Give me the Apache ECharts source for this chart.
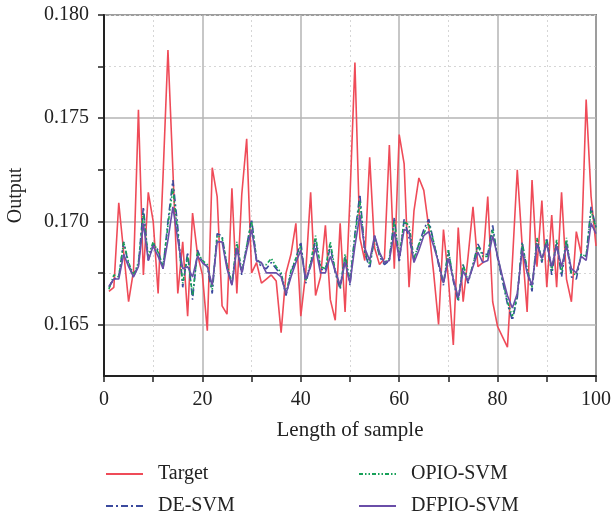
<!DOCTYPE html>
<html><head><meta charset="utf-8">
<script src="https://cdn.jsdelivr.net/npm/echarts@6/dist/echarts.min.js"></script>
<style>html,body{margin:0;padding:0;background:#fff}#c{width:611px;height:517px}</style>
</head><body><div id="c"></div><script>
const seriesNames = ['Target', 'DE-SVM', 'OPIO-SVM', 'DFPIO-SVM'];
const xTickLabels = ['0', '20', '40', '60', '80', '100'];
const yTickLabels = ['0.165', '0.170', '0.175', '0.180'];

const target = [
0.1666,0.1668,0.1709,0.1685,0.1661,0.1676,0.1754,0.1674,0.1714,0.1700,
0.1665,0.1722,0.1783,0.1725,0.1665,0.1690,0.1654,0.1704,0.1684,0.1674,
0.1647,0.1726,0.1712,0.1659,0.1655,0.1716,0.1665,0.1713,0.1740,0.1675,
0.1680,0.1670,0.1672,0.1674,0.1671,0.1646,0.1675,0.1684,0.1699,0.1654,
0.1675,0.1714,0.1664,0.1673,0.1698,0.1662,0.1652,0.1699,0.1656,0.1712,
0.1777,0.1692,0.1681,0.1731,0.1687,0.1679,0.1682,0.1737,0.1677,0.1742,
0.1728,0.1668,0.1705,0.1721,0.1715,0.1697,0.1675,0.1650,0.1696,0.1672,
0.1640,0.1697,0.1661,0.1683,0.1707,0.1678,0.1680,0.1712,0.1661,0.1649,
0.1644,0.1639,0.1680,0.1725,0.1688,0.1656,0.1720,0.1678,0.1710,0.1668,
0.1703,0.1668,0.1714,0.1672,0.1661,0.1695,0.1684,0.1759,0.1712,0.1688];

const deSvm = [
0.1668,0.1672,0.1673,0.1690,0.1679,0.1673,0.1679,0.1707,0.1681,0.1689,
0.1686,0.1677,0.1700,0.1720,0.1697,0.1668,0.1685,0.1662,0.1686,0.1680,
0.1678,0.1665,0.1694,0.1693,0.1678,0.1669,0.1689,0.1674,0.1688,0.1701,
0.1681,0.1678,0.1677,0.1680,0.1677,0.1674,0.1664,0.1675,0.1682,0.1690,
0.1670,0.1679,0.1691,0.1677,0.1676,0.1688,0.1675,0.1667,0.1683,0.1669,
0.1694,0.1713,0.1685,0.1677,0.1693,0.1683,0.1679,0.1681,0.1702,0.1680,
0.1701,0.1692,0.1681,0.1689,0.1696,0.1701,0.1690,0.1679,0.1669,0.1686,
0.1671,0.1661,0.1679,0.1670,0.1679,0.1689,0.1684,0.1684,0.1698,0.1682,
0.1671,0.1660,0.1652,0.1663,0.1690,0.1676,0.1666,0.1691,0.1680,0.1692,
0.1674,0.1690,0.1673,0.1690,0.1673,0.1672,0.1684,0.1683,0.1707,0.1697];

const opioSvm = [
0.1667,0.1674,0.1673,0.1690,0.1680,0.1674,0.1680,0.1704,0.1683,0.1690,
0.1685,0.1678,0.1698,0.1716,0.1694,0.1670,0.1683,0.1664,0.1685,0.1681,
0.1679,0.1667,0.1693,0.1692,0.1679,0.1670,0.1690,0.1676,0.1688,0.1700,
0.1682,0.1679,0.1679,0.1682,0.1678,0.1675,0.1665,0.1676,0.1682,0.1688,
0.1671,0.1680,0.1693,0.1678,0.1677,0.1690,0.1676,0.1668,0.1684,0.1671,
0.1693,0.1710,0.1686,0.1679,0.1692,0.1684,0.1680,0.1682,0.1700,0.1683,
0.1700,0.1698,0.1682,0.1689,0.1694,0.1699,0.1690,0.1680,0.1670,0.1686,
0.1672,0.1662,0.1679,0.1671,0.1679,0.1688,0.1683,0.1683,0.1696,0.1683,
0.1672,0.1661,0.1654,0.1664,0.1689,0.1677,0.1668,0.1692,0.1681,0.1691,
0.1676,0.1691,0.1675,0.1692,0.1675,0.1674,0.1684,0.1683,0.1705,0.1697];

const dfpioSvm = [
0.16685,0.1672,0.1672,0.1684,0.1678,0.1673,0.1678,0.1699,0.1681,0.1688,
0.1683,0.1677,0.1691,0.1707,0.1691,0.1677,0.1678,0.1673,0.1683,0.1680,
0.1678,0.1669,0.1690,0.1690,0.1677,0.1669,0.1687,0.1675,0.1686,0.1696,
0.1681,0.1680,0.1675,0.1675,0.1675,0.1673,0.1665,0.1673,0.1680,0.1686,
0.1672,0.1678,0.1687,0.1675,0.1675,0.1683,0.1676,0.1669,0.1680,0.1670,
0.1688,0.1703,0.1687,0.1681,0.1693,0.1685,0.1680,0.1681,0.1695,0.1682,
0.1696,0.1695,0.1680,0.1686,0.1693,0.1695,0.1688,0.1680,0.1670,0.1682,
0.1672,0.1663,0.1676,0.1671,0.1678,0.1685,0.1680,0.1681,0.1693,0.1683,
0.1673,0.1664,0.1658,0.1665,0.1686,0.1675,0.1669,0.1689,0.1682,0.1689,
0.1678,0.1688,0.1678,0.1688,0.1677,0.1675,0.1683,0.1681,0.1699,0.1694];

const sampleIndex = target.map((_, i) => i + 1);
const pairs = arr => arr.map((v, i) => [sampleIndex[i], v]);

const FONT = 'Liberation Serif';
const colors = ['#ef4b58', '#3b4a9e', '#17a058', '#6a4ea8'];
const lineTypes = ['solid', [7, 3, 2, 3], [4, 2, 1.5, 2, 1.5, 2], 'solid'];
const datasets = [target, deSvm, opioSvm, dfpioSvm];

const chart = echarts.init(document.getElementById('c'), null, {renderer: 'canvas'});
const legendPos = [
  {left: 105, top: 464}, {left: 105, top: 496},
  {left: 358, top: 464}, {left: 358, top: 496}
];
const legendOrder = ['Target', 'DE-SVM', 'OPIO-SVM', 'DFPIO-SVM'];
const CLEAR = 'rgba(0,0,0,0)';

chart.setOption({
  animation: false,
  backgroundColor: '#fff',
  grid: {left: 104, right: 15, top: 15, bottom: 141, containLabel: false, outerBoundsMode: 'none',
    show: true, borderColor: '#222', borderWidth: 1.5, backgroundColor: 'transparent'},
  legend: legendOrder.map((n, i) => ({
    data: [n], left: legendPos[i].left, top: legendPos[i].top, padding: 0,
    itemWidth: 37, itemHeight: 14,
    itemStyle: {opacity: 0},
    textStyle: {fontFamily: FONT, fontSize: 20, color: '#222', padding: [0, 0, 0, 10]}
  })),
  xAxis: [{
    type: 'value', min: 0, max: 100, interval: 10,
    name: 'Length of sample', nameLocation: 'middle', nameGap: 44,
    nameTextStyle: {fontFamily: FONT, fontSize: 21, color: '#222'},
    axisLine: {show: true, onZero: false, lineStyle: {color: '#222', width: 2}},
    axisTick: {show: true, inside: false, length: 6, lineStyle: {color: '#222', width: 1.5}},
    axisLabel: {fontFamily: FONT, fontSize: 20, color: '#222', margin: 14, interval: 0,
      formatter: v => (Math.round(v) % 20 === 0 ? xTickLabels[Math.round(v / 20)] : '')},
    splitLine: {show: true, lineStyle: {color: ['#b5b5b5', CLEAR], width: 1.5}}
  }, {
    type: 'value', min: 0, max: 100, interval: 10, position: 'top',
    axisLine: {show: false}, axisTick: {show: false}, axisLabel: {show: false},
    splitLine: {show: true, lineStyle: {color: [CLEAR, '#d6d6d6'], width: 1, type: [2, 3]}}
  }],
  yAxis: [{
    type: 'value', min: 0.1625, max: 0.180, interval: 0.0025,
    name: 'Output', nameLocation: 'middle', nameGap: 78, nameRotate: 90,
    nameTextStyle: {fontFamily: FONT, fontSize: 20, color: '#222'},
    axisLine: {show: true, onZero: false, lineStyle: {color: '#222', width: 2}},
    axisTick: {show: true, inside: false, length: 6, lineStyle: {color: '#222', width: 1.5}},
    axisLabel: {fontFamily: FONT, fontSize: 20, color: '#222', margin: 15, showMinLabel: false,
      formatter: v => {
        const k = Math.round((v - 0.165) / 0.005);
        return Math.abs(v - (0.165 + k * 0.005)) < 1e-6 && k >= 0 ? yTickLabels[k] : '';
      }},
    splitLine: {show: true, lineStyle: {color: [CLEAR, '#b5b5b5'], width: 1.5}}
  }, {
    type: 'value', min: 0.1625, max: 0.180, interval: 0.005, position: 'right',
    axisLine: {show: false}, axisTick: {show: false}, axisLabel: {show: false},
    splitLine: {show: true, lineStyle: {color: '#d6d6d6', width: 1, type: [2, 3]}}
  }],
  series: seriesNames.map((n, i) => ({
    name: n, type: 'line', symbol: 'none', yAxisIndex: 0, xAxisIndex: 0,
    data: pairs(datasets[i]),
    lineStyle: {color: colors[i], width: 1.6, type: lineTypes[i]},
    itemStyle: {color: colors[i]},
    z: 2 + i
  }))
});
</script></body></html>
